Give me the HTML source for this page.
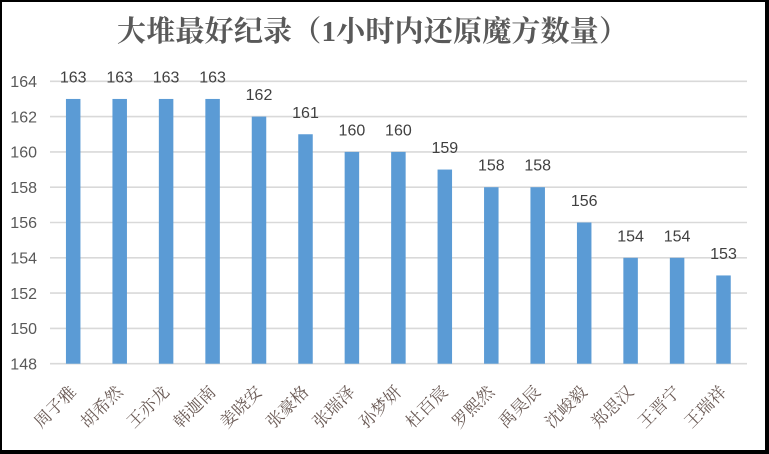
<!DOCTYPE html>
<html>
<head>
<meta charset="utf-8">
<style>
  html, body { margin:0; padding:0; background:#000; }
  body { width:769px; height:454px; position:relative; overflow:hidden; }
  #panel { position:absolute; left:2px; top:2px; width:763px; height:448px; background:#fff; }
  svg { position:absolute; left:0; top:0; }
</style>
</head>
<body>
<div id="panel"></div>
<svg width="769" height="454" viewBox="0 0 769 454" xmlns="http://www.w3.org/2000/svg">
  <!-- Title -->
  <text x="117" y="41" font-family="'Liberation Serif','Noto Serif CJK SC',serif" font-size="29" font-weight="bold" fill="#595959" textLength="511" lengthAdjust="spacing">大堆最好纪录（1小时内还原魔方数量）</text>

  <!-- Gridlines -->
  <g stroke="#d9d9d9" stroke-width="1.6">
    <line x1="50" x2="747" y1="363.7" y2="363.7"/>
    <line x1="50" x2="747" y1="328.4" y2="328.4"/>
    <line x1="50" x2="747" y1="293.1" y2="293.1"/>
    <line x1="50" x2="747" y1="257.8" y2="257.8"/>
    <line x1="50" x2="747" y1="222.5" y2="222.5"/>
    <line x1="50" x2="747" y1="187.2" y2="187.2"/>
    <line x1="50" x2="747" y1="151.9" y2="151.9"/>
    <line x1="50" x2="747" y1="116.6" y2="116.6"/>
    <line x1="50" x2="747" y1="81.3" y2="81.3"/>
  </g>

  <!-- Y axis labels -->
  <g font-family="'Liberation Sans',sans-serif" font-size="16" fill="#595959" text-anchor="end">
    <text x="37" y="369.4">148</text>
    <text x="37" y="334.1">150</text>
    <text x="37" y="298.8">152</text>
    <text x="37" y="263.5">154</text>
    <text x="37" y="228.2">156</text>
    <text x="37" y="192.9">158</text>
    <text x="37" y="157.6">160</text>
    <text x="37" y="122.3">162</text>
    <text x="37" y="87.0">164</text>
  </g>

  <!-- Bars -->
  <g fill="#5b9bd5">
    <rect x="65.95" y="98.95" width="14.5" height="264.75"/>
    <rect x="112.45" y="98.95" width="14.5" height="264.75"/>
    <rect x="158.85" y="98.95" width="14.5" height="264.75"/>
    <rect x="205.35" y="98.95" width="14.5" height="264.75"/>
    <rect x="251.75" y="116.6" width="14.5" height="247.1"/>
    <rect x="298.25" y="134.25" width="14.5" height="229.45"/>
    <rect x="344.65" y="151.9" width="14.5" height="211.8"/>
    <rect x="391.15" y="151.9" width="14.5" height="211.8"/>
    <rect x="437.55" y="169.55" width="14.5" height="194.15"/>
    <rect x="484.05" y="187.2" width="14.5" height="176.5"/>
    <rect x="530.45" y="187.2" width="14.5" height="176.5"/>
    <rect x="576.95" y="222.5" width="14.5" height="141.2"/>
    <rect x="623.35" y="257.8" width="14.5" height="105.9"/>
    <rect x="669.85" y="257.8" width="14.5" height="105.9"/>
    <rect x="716.25" y="275.45" width="14.5" height="88.25"/>
  </g>

  <!-- Data labels -->
  <g font-family="'Liberation Sans',sans-serif" font-size="16" fill="#404040" text-anchor="middle">
    <text x="73.2" y="82.5">163</text>
    <text x="119.7" y="82.5">163</text>
    <text x="166.1" y="82.5">163</text>
    <text x="212.6" y="82.5">163</text>
    <text x="259.0" y="100.1">162</text>
    <text x="305.5" y="117.8">161</text>
    <text x="351.9" y="135.4">160</text>
    <text x="398.4" y="135.4">160</text>
    <text x="444.8" y="153.1">159</text>
    <text x="491.3" y="170.7">158</text>
    <text x="537.7" y="170.7">158</text>
    <text x="584.2" y="206.0">156</text>
    <text x="630.6" y="241.3">154</text>
    <text x="677.1" y="241.3">154</text>
    <text x="723.5" y="259.0">153</text>
  </g>

  <!-- X axis labels -->
  <g font-family="'Liberation Serif','Noto Serif CJK SC',serif" font-size="17" fill="#6a5a55" text-anchor="end">
    <text transform="translate(77.2,393) rotate(-45)">周子雅</text>
    <text transform="translate(123.7,393) rotate(-45)">胡希然</text>
    <text transform="translate(170.1,393) rotate(-45)">王亦龙</text>
    <text transform="translate(216.6,393) rotate(-45)">韩迦南</text>
    <text transform="translate(263.0,393) rotate(-45)">姜晓安</text>
    <text transform="translate(309.5,393) rotate(-45)">张豪格</text>
    <text transform="translate(355.9,393) rotate(-45)">张瑞泽</text>
    <text transform="translate(402.4,393) rotate(-45)">孙梦妍</text>
    <text transform="translate(448.8,393) rotate(-45)">杜百宸</text>
    <text transform="translate(495.3,393) rotate(-45)">罗熙然</text>
    <text transform="translate(541.7,393) rotate(-45)">禹昊辰</text>
    <text transform="translate(588.2,393) rotate(-45)">沈峻毅</text>
    <text transform="translate(634.6,393) rotate(-45)">郑思汉</text>
    <text transform="translate(681.1,393) rotate(-45)">王晋宁</text>
    <text transform="translate(727.5,393) rotate(-45)">王瑞祥</text>
  </g>
</svg>
</body>
</html>
